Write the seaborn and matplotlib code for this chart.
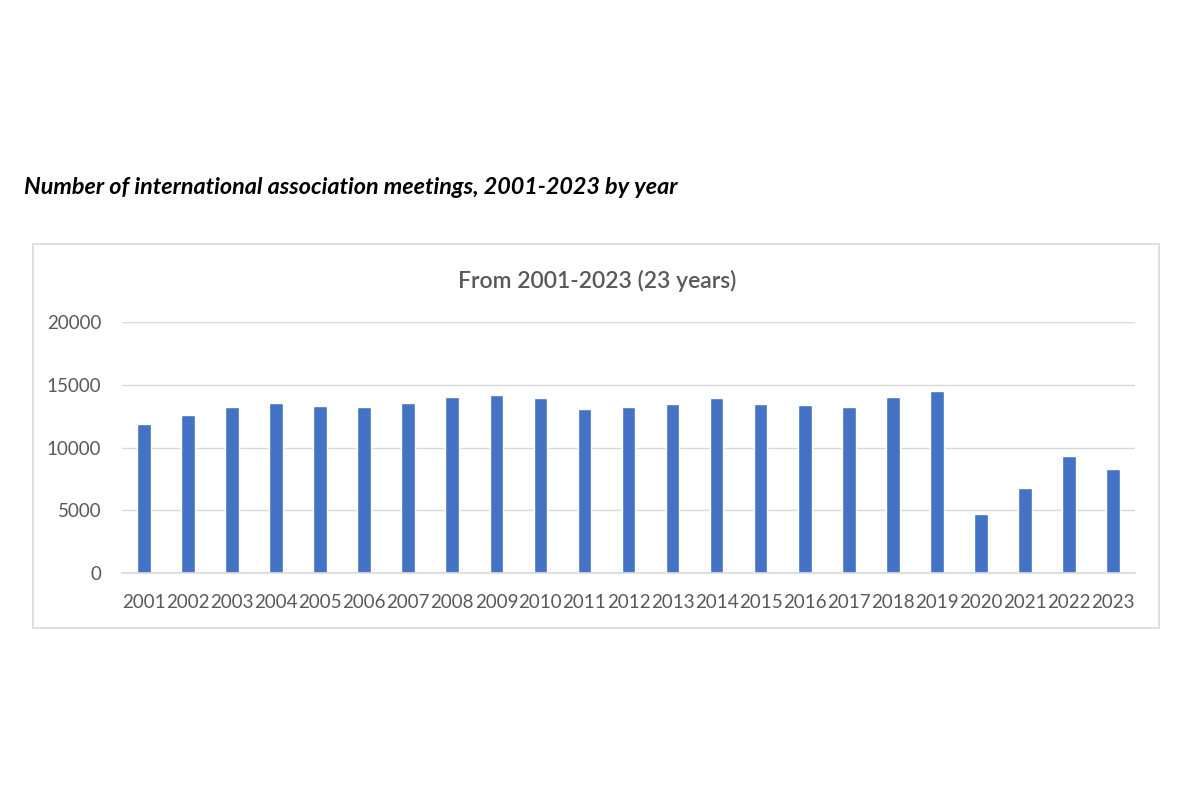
import numpy as np
import pandas as pd
import matplotlib
matplotlib.use('Agg')
import matplotlib.pyplot as plt
import seaborn as sns
from matplotlib.patches import Rectangle

years = [str(y) for y in range(2001, 2024)]
meetings = [11860, 12600, 13190, 13560, 13320, 13220, 13560, 14040, 14180, 13940,
            13090, 13220, 13460, 13940, 13480, 13380, 13220, 14040, 14490,
            4680, 6780, 9340, 8300]

title_main = 'Number of international association meetings, 2001-2023 by year'
title_chart = 'From 2001-2023 (23 years)'

df = pd.DataFrame({'Year': years, 'Meetings': meetings})

sns.set_theme(style='white')
plt.rcParams['font.family'] = ['Lato', 'DejaVu Sans']

fig = plt.figure(figsize=(12, 8), dpi=100)
fig.patch.set_facecolor('white')

# outer chart frame
fig.patches.append(Rectangle((33 / 1200, 1 - 628 / 800), 1126 / 1200, 384 / 800,
                             transform=fig.transFigure, fill=False,
                             edgecolor='#D9D9D9', linewidth=1.2))

ax = fig.add_axes([122 / 1200, 1 - 573 / 800, 1013 / 1200, 251 / 800])
sns.barplot(data=df, x='Year', y='Meetings', color='#4472C4', width=0.31,
            saturation=1, ax=ax)

ax.set_ylim(0, 20000)
ax.set_yticks([0, 5000, 10000, 15000, 20000])
ax.set_yticklabels(['0', '5000', '10000', '15000', '20000'])
ax.set_xlim(-0.5, len(years) - 0.5)
ax.yaxis.grid(True, color='#D9D9D9', linewidth=1)
ax.set_axisbelow(True)
for s in ['top', 'right', 'left']:
    ax.spines[s].set_visible(False)
ax.spines['bottom'].set_color('#D9D9D9')
ax.set_xlabel('')
ax.set_ylabel('')
ax.tick_params(axis='both', length=0, colors='#595959', labelsize=13.5)
ax.tick_params(axis='y', pad=15)
ax.tick_params(axis='x', pad=15)

fig.text(24 / 1200, 1 - 187 / 800, title_main, fontsize=16.8, fontweight='bold',
         fontstyle='italic', color='black', va='center', ha='left')
fig.text(597 / 1200, 1 - 281 / 800, title_chart, fontsize=16.5, color='#595959',
         fontweight='semibold', va='center', ha='center')

fig.savefig('out.png', dpi=100)
